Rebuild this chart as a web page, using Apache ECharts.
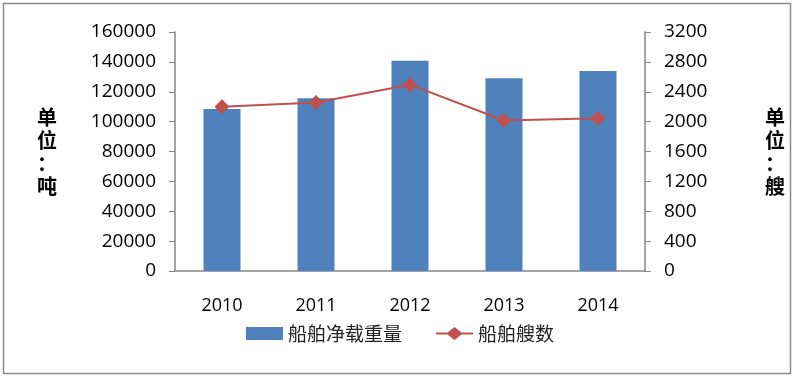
<!DOCTYPE html>
<html>
<head>
<meta charset="utf-8">
<script src="https://cdn.jsdelivr.net/npm/echarts@6/dist/echarts.min.js"></script>
<style>
  html, body { margin: 0; padding: 0; background: #fff; }
  #chart { width: 800px; height: 378px; }
</style>
</head>
<body>
<div id="chart"></div>
<script>
  // 数据
  var years = ['2010', '2011', '2012', '2013', '2014']
  var tonnage = [108500, 115600, 140800, 129000, 133900]
  var shipCount = [2200, 2255, 2495, 2015, 2045]

  var font = '"Open Sans", "Noto Sans CJK SC", sans-serif'
  var cjk = '"Noto Sans CJK SC", sans-serif'
  var axisGray = '#868686'
  // 图例：折线加菱形
  var lineIcon = 'path://M0,5.5L11.5,5.5L18.5,0L25.5,5.5L37,5.5L37,7.5L25.5,7.5L18.5,13L11.5,7.5L0,7.5Z'

  var mychart = echarts.init(document.getElementById('chart'))
  var options = {
    animation: false,
    graphic: [
      {
        type: 'rect',
        shape: { x: 3.5, y: 3.5, width: 787, height: 370 },
        style: { fill: 'none', stroke: '#8c8c8c', lineWidth: 1.5 }
      }
    ],
    legend: {
      bottom: 30,
      left: 'center',
      itemGap: 34,
      itemWidth: 37,
      itemHeight: 13,
      textStyle: { fontFamily: cjk, fontSize: 19, color: '#222' },
      data: [
        { name: '船舶净载重量', icon: 'rect' },
        { name: '船舶艘数', icon: lineIcon }
      ]
    },
    grid: {
      left: 175,
      right: 155,
      top: 32,
      bottom: 107
    },
    xAxis: {
      type: 'category',
      data: years,
      axisLine: { lineStyle: { color: axisGray, width: 1.5 } },
      axisTick: { length: 6, lineStyle: { color: axisGray } },
      axisLabel: { margin: 26, fontFamily: font, fontSize: 18, color: '#000' }
    },
    yAxis: [
      {
        type: 'value',
        min: 0,
        max: 160000,
        interval: 20000,
        name: '单\n位\n：\n吨',
        nameLocation: 'middle',
        nameRotate: 0,
        nameGap: 118,
        nameTextStyle: { fontFamily: cjk, fontSize: 20, fontWeight: 'bold', color: '#000', lineHeight: 23 },
        splitLine: { show: false },
        axisLine: { show: true, lineStyle: { color: axisGray, width: 1.5 } },
        axisTick: { show: true, length: 6, lineStyle: { color: axisGray } },
        axisLabel: {
          margin: 19, fontFamily: font, fontSize: 19, color: '#000',
          formatter: function (v) { return String(v) }
        }
      },
      {
        type: 'value',
        min: 0,
        max: 3200,
        interval: 400,
        name: '单\n位\n：\n艘',
        nameLocation: 'middle',
        nameRotate: 0,
        nameGap: 120,
        nameTextStyle: { fontFamily: cjk, fontSize: 20, fontWeight: 'bold', color: '#000', lineHeight: 23 },
        splitLine: { show: false },
        axisLine: { show: true, lineStyle: { color: axisGray, width: 1.5 } },
        axisTick: { show: true, length: 6, lineStyle: { color: axisGray } },
        axisLabel: {
          margin: 19, fontFamily: font, fontSize: 19, color: '#000',
          formatter: function (v) { return String(v) }
        }
      }
    ],
    series: [
      {
        name: '船舶净载重量',
        type: 'bar',
        barWidth: 37,
        itemStyle: { color: '#4F81BD' },
        data: tonnage
      },
      {
        name: '船舶艘数',
        type: 'line',
        yAxisIndex: 1,
        symbol: 'diamond',
        symbolSize: 15,
        lineStyle: { color: '#C0504D', width: 2 },
        itemStyle: { color: '#C0504D' },
        data: shipCount
      }
    ]
  }
  mychart.setOption(options)
</script>
</body>
</html>
